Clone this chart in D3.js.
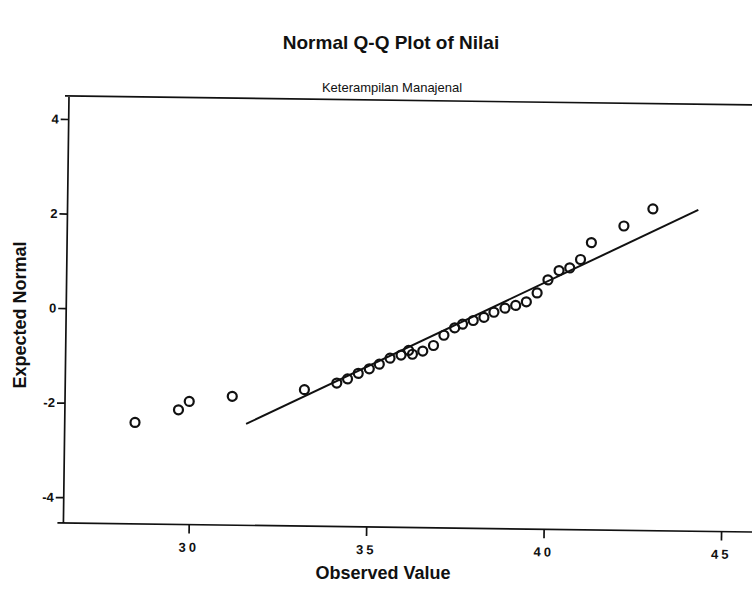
<!DOCTYPE html>
<html>
<head>
<meta charset="utf-8">
<script src="https://cdn.jsdelivr.net/npm/d3@7"></script>
<style>
  html, body { margin: 0; padding: 0; background: #fff; }
  svg { display: block; }
</style>
</head>
<body>
<svg id="chart" width="752" height="589"></svg>
<script>
// ---- data ----
const titleText = "Normal Q-Q Plot of Nilai";
const subtitleText = "Keterampilan Manajenal";
const xLabelText = "Observed Value";
const yLabelText = "Expected Normal";
const xTickValues = [30, 35, 40, 45];
const yTickValues = [4, 2, 0, -2, -4];
const observed = [28.45, 29.67, 29.97, 31.18, 33.21, 34.12, 34.42, 34.72, 35.03, 35.31,
                  35.61, 35.92, 36.13, 36.24, 36.53, 36.83, 37.12, 37.42, 37.64, 37.94,
                  38.24, 38.52, 38.83, 39.13, 39.43, 39.73, 40.03, 40.34, 40.64, 40.94,
                  41.24, 42.15, 42.96];
const expectedNormal = [-2.40, -2.12, -1.94, -1.82, -1.66, -1.51, -1.42, -1.30, -1.20, -1.10,
                  -0.97, -0.90, -0.80, -0.88, -0.81, -0.69, -0.47, -0.31, -0.23, -0.15,
                  -0.08, 0.03, 0.12, 0.18, 0.26, 0.45, 0.73, 0.93, 0.99, 1.17,
                  1.53, 1.89, 2.26];
const refLineX = [31.58, 44.24];
const refLineY = [-2.40, 2.25];

// ---- layout ----
const svg = d3.select("#chart");
const frame = { left: 69, right: 775, top: 96, bottom: 523 };
const xDomain = [26.47, 46.36];
const yDomain = [-4.545, 4.486];
const ink = "#111";
const font = "'Liberation Sans', Arial, sans-serif";

const x = d3.scaleLinear().domain(xDomain).range([frame.left, frame.right]);
const y = d3.scaleLinear().domain(yDomain).range([frame.bottom, frame.top]);

svg.append("rect").attr("width", 752).attr("height", 589).attr("fill", "#fff");

// title & labels (unrotated)
svg.append("text").attr("x", 391).attr("y", 48.5)
  .attr("text-anchor", "middle").attr("font-family", font)
  .attr("font-weight", "bold").attr("font-size", 19).attr("fill", ink)
  .text(titleText);

svg.append("text").attr("x", 392).attr("y", 92)
  .attr("text-anchor", "middle").attr("font-family", font)
  .attr("font-size", 13).attr("fill", ink)
  .text(subtitleText);

svg.append("text").attr("x", 383).attr("y", 579)
  .attr("text-anchor", "middle").attr("font-family", font)
  .attr("font-weight", "bold").attr("font-size", 18).attr("fill", ink)
  .text(xLabelText);

svg.append("text")
  .attr("transform", "translate(26,315) rotate(-90)")
  .attr("text-anchor", "middle").attr("font-family", font)
  .attr("font-weight", "bold").attr("font-size", 18).attr("fill", ink)
  .text(yLabelText);

// plot group, slightly rotated like the scanned page
const g = svg.append("g").attr("transform", `rotate(0.75, ${frame.left}, ${frame.top})`);

// frame (right edge runs off the page)
g.append("path")
  .attr("d", `M${frame.right},${frame.top}H${frame.left - 4}M${frame.left},${frame.top}V${frame.bottom}M${frame.left - 6},${frame.bottom}H${frame.right}`)
  .attr("fill", "none").attr("stroke", ink).attr("stroke-width", 1.7);

const xAxis = d3.axisBottom(x).tickValues(xTickValues).tickSize(9).tickPadding(9)
  .tickFormat(d => String(d));
const gx = g.append("g").attr("transform", `translate(0,${frame.bottom})`).call(xAxis);
gx.select(".domain").remove();
gx.selectAll(".tick line").attr("stroke", ink).attr("stroke-width", 1.7);
gx.selectAll(".tick text").attr("font-family", font).attr("font-weight", "bold")
  .attr("font-size", 13).attr("fill", ink).attr("letter-spacing", 3);

const yAxis = d3.axisLeft(y).tickValues(yTickValues).tickSize(8).tickPadding(2)
  .tickFormat(d => String(d));
const gy = g.append("g").attr("transform", `translate(${frame.left},0)`).call(yAxis);
gy.select(".domain").remove();
gy.selectAll(".tick line").attr("stroke", ink).attr("stroke-width", 1.7);
gy.selectAll(".tick text").attr("font-family", font).attr("font-weight", "bold")
  .attr("font-size", 13).attr("fill", ink);

// reference line
g.append("line")
  .attr("x1", x(refLineX[0])).attr("y1", y(refLineY[0]))
  .attr("x2", x(refLineX[1])).attr("y2", y(refLineY[1]))
  .attr("stroke", ink).attr("stroke-width", 2);

// points
g.append("g").selectAll("circle")
  .data(observed.map((v, i) => [v, expectedNormal[i]]))
  .join("circle")
  .attr("cx", d => x(d[0])).attr("cy", d => y(d[1]))
  .attr("r", 4.5)
  .attr("fill", "none").attr("stroke", ink).attr("stroke-width", 2.2);
</script>
</body>
</html>
